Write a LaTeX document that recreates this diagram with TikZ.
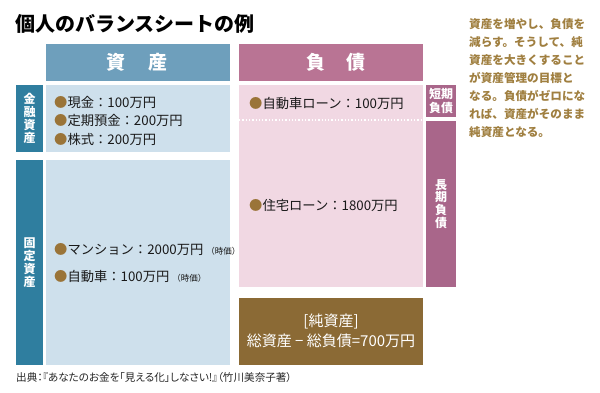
\documentclass[tikz,border=0pt]{standalone}
\usepackage{fontspec}
\setmainfont{Noto Sans CJK JP}
\newfontfamily\jpprop{Noto Sans CJK JP}[RawFeature=+palt]
\definecolor{hdrblue}{HTML}{6E9FBC}
\definecolor{sideblue}{HTML}{2F7E9F}
\definecolor{lightblue}{HTML}{CEE0EC}
\definecolor{hdrpink}{HTML}{B97494}
\definecolor{sidepink}{HTML}{A9668A}
\definecolor{lightpink}{HTML}{F1D8E3}
\definecolor{netbrown}{HTML}{8B6A35}
\definecolor{bulletc}{HTML}{9A7438}
\definecolor{notec}{HTML}{A07F40}
\newcommand{\bul}{\textcolor{bulletc}{●}}
\newcommand{\jika}{{\fontsize{8.5}{10}\selectfont（時価）}}
\begin{document}
\begin{tikzpicture}[x=1pt,y=-1pt,
  panel/.style={draw=none, inner sep=0pt, outer sep=0pt, anchor=north west},
  hdrtext/.style={text=white, font=\fontsize{19}{21}\selectfont\bfseries},
  sidetext/.style={text=white, align=center, inner sep=0pt, font=\fontsize{12}{12.8}\selectfont\bfseries},
  itemtext/.style={anchor=west, inner sep=0pt, text=black!90, font=\fontsize{13.3}{15}\selectfont}
]
\useasboundingbox[fill=white] (0,0) rectangle (600,392);

% title
\node[anchor=west, inner sep=0pt, font=\fontsize{20}{24}\selectfont\bfseries] (title) at (15,24) {個人のバランスシートの例};

% headers
\node[panel, fill=hdrblue, minimum width=184pt, minimum height=37pt] (ah) at (46,44) {};
\node[hdrtext] (aht) at ([xshift=-1pt]ah.center) {資\hspace{23pt}産};
\node[panel, fill=hdrpink, minimum width=184pt, minimum height=37pt] (lh) at (239,44) {};
\node[hdrtext] (lht) at ([xshift=5pt]lh.center) {負\hspace{21pt}債};

% assets side
\node[panel, fill=sideblue, minimum width=27pt, minimum height=67pt] (fs) at (16,85) {};
\node[sidetext] (fst) at (fs.center) {金\\融\\資\\産};
\node[panel, fill=lightblue, minimum width=184pt, minimum height=67pt] (fb) at (46,85) {};

\node[panel, fill=sideblue, minimum width=27pt, minimum height=205pt] (xs) at (16,160) {};
\node[sidetext] (xst) at (xs.center) {固\\定\\資\\産};
\node[panel, fill=lightblue, minimum width=184pt, minimum height=205pt] (xb) at (46,160) {};

% liabilities
\node[panel, fill=lightpink, minimum width=184pt, minimum height=202pt] (pb) at (239,85) {};
\draw[white, line width=1.3pt, dash pattern=on 1.3pt off 2pt] (239,120) -- (423,120);
\node[panel, fill=sidepink, minimum width=30pt, minimum height=32pt] (sl) at (426,85) {};
\node[sidetext, font=\fontsize{12}{14.5}\selectfont\bfseries] (slt) at (sl.center) {短期\\負債};
\node[panel, fill=sidepink, minimum width=30pt, minimum height=166pt] (ll) at (426,121) {};
\node[sidetext] (llt) at (ll.center) {長\\期\\負\\債};

% net assets
\node[panel, fill=netbrown, minimum width=184pt, minimum height=67pt] (nb) at (239,298) {};
\node[text=white, align=center, inner sep=0pt, font=\fontsize{15}{20}\selectfont] (nbt) at ([yshift=1pt]nb.center) {[純資産]\\総資産 − 総負債=700万円};

% items
\node[itemtext] (i1) at (54,102) {\bul 現金：100万円};
\node[itemtext] (i2) at (54,120.5) {\bul 定期預金：200万円};
\node[itemtext] (i3) at (54,139) {\bul 株式：200万円};
\node[itemtext] (i4) at (54,250) {\bul マンション：2000万円 \jika};
\node[itemtext] (i5) at (54,276) {\bul 自動車：100万円 \jika};
\node[itemtext] (i6) at (249,103) {\bul 自動車ローン：100万円};
\node[itemtext] (i7) at (249,205) {\bul 住宅ローン：1800万円};

% note
\node[anchor=north west, inner sep=0pt, align=left, text=notec, font=\fontsize{11.6}{18}\selectfont\bfseries] (note) at (469,18.5)
{資産を増やし、負債を\\減らす。そうして、純\\資産を大きくすること\\が資産管理の目標と\\なる。負債がゼロにな\\れば、資産がそのまま\\純資産となる。};

% footer
\node[anchor=west, inner sep=0pt, text=black!85, font=\jpprop\fontsize{10.6}{13}\selectfont] (src) at (16,377) {出典：『あなたのお金を「見える化」しなさい!』（竹川美奈子著）};
\end{tikzpicture}
\end{document}
